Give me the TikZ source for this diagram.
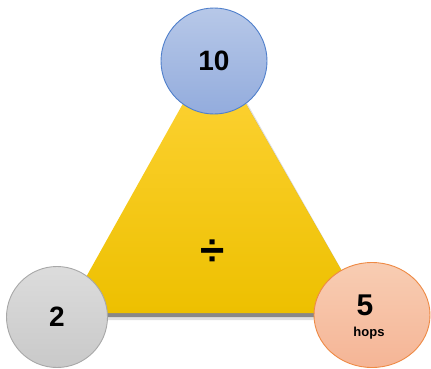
\documentclass[tikz,border=0pt]{standalone}
\usepackage{fontspec}
\setmainfont{Liberation Sans}
\usetikzlibrary{shapes.geometric}
\definecolor{triTop}{HTML}{FFD43A}
\definecolor{triMid}{HTML}{FFCC00}
\definecolor{triBot}{HTML}{EDC000}
\definecolor{blueTop}{HTML}{B7C8E8}
\definecolor{blueBot}{HTML}{93ACDD}
\definecolor{blueEdge}{HTML}{4F7FCB}
\definecolor{grayTop}{HTML}{DCDCDC}
\definecolor{grayBot}{HTML}{C9C9C9}
\definecolor{grayEdge}{HTML}{A8A8A8}
\definecolor{orTop}{HTML}{F8CDB3}
\definecolor{orBot}{HTML}{F5B596}
\definecolor{orEdge}{HTML}{EE8A45}
\tikzset{
  numtext/.style={font=\bfseries\fontsize{28}{28}\selectfont, text=black},
  ball/.style={circle, inner sep=0pt, line width=0.9pt}
}
\begin{document}
\begin{tikzpicture}[x=1pt,y=-1pt]
\useasboundingbox (0,0) rectangle (431,368);
% triangle shadow
\fill[black!20, opacity=0.6] (64,320) -- (370,320) -- (217,50) -- cycle;
\fill[black!55, opacity=0.8] (67,317) -- (368,317) -- (215,50) -- cycle;
% triangle
\shade[top color=triTop, middle color=triMid, bottom color=triBot]
  (66,313) -- (366,313) -- (214,48) -- cycle;
\node[font=\bfseries\fontsize{44}{44}\selectfont] (div) at (213,253) {÷};
% circles
\node[ball, minimum size=106pt, draw=blueEdge, top color=blueTop, bottom color=blueBot] (top) at (214,61) {};
\node[numtext] (topt) at (top.center) {10};
\node[ball, minimum size=101pt, draw=grayEdge, top color=grayTop, bottom color=grayBot] (left) at (57,317) {};
\node[numtext] (leftt) at (left.center) {2};
\node[ellipse, inner sep=0pt, line width=0.9pt, minimum width=116pt, minimum height=105pt, draw=orEdge, top color=orTop, bottom color=orBot] (right) at (372,315) {};
\node[numtext, font=\bfseries\fontsize{30}{30}\selectfont] (five) at (365,305) {5};
\node[font=\bfseries\fontsize{13}{13}\selectfont] (hops) at (369,333) {hops};
\end{tikzpicture}
\end{document}
